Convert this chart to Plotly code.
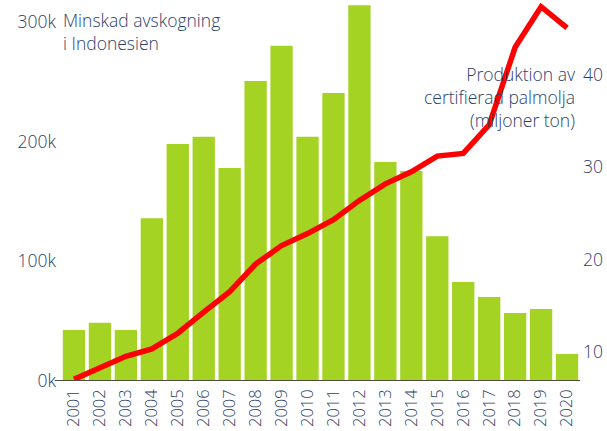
import plotly.graph_objects as go

years = [str(y) for y in range(2001, 2021)]

# tree cover loss in Indonesia (hectares)
deforestation = [42600, 48700, 42600, 136000, 198000, 204000, 178000, 250600, 280000, 204000,
                 240600, 314000, 183000, 175400, 121000, 82700, 70200, 56800, 60200, 22600]

# certified palm oil production (million tonnes)
palm_oil = [7.0, 8.3, 9.5, 10.3, 12.0, 14.3, 16.5, 19.5, 21.5, 22.8,
            24.3, 26.4, 28.2, 29.5, 31.2, 31.5, 34.6, 43.0, 47.4, 45.1]

left_ticks = [0, 100000, 200000, 300000]
left_labels = ['0k', '100k', '200k', '300k']
right_ticks = [10, 20, 30, 40]

TEXT = '#2c3e6b'
FONT = 'Open Sans'

fig = go.Figure()

# Add deforestation bars
fig.add_trace(go.Bar(
    x=years,
    y=deforestation,
    marker=dict(color='#a4d323', line=dict(width=0)),
    name='Minskad avskogning',
))

# Add palm oil line on secondary axis
fig.add_trace(go.Scatter(
    x=years,
    y=palm_oil,
    yaxis='y2',
    mode='lines',
    line=dict(color='#ff0000', width=5.5),
    name='Produktion',
))

fig.update_layout(
    width=607,
    height=431,
    margin=dict(l=61, r=27, t=0, b=50, autoexpand=False),
    plot_bgcolor='white',
    paper_bgcolor='white',
    showlegend=False,
    bargap=0.14,
    font=dict(family=FONT, color=TEXT, size=16, weight=300),
    xaxis=dict(
        automargin=False,
        tickangle=-90,
        showgrid=False,
        showline=False,
        ticks='',
        ticklabelstandoff=4,
        tickfont=dict(size=16.5, color=TEXT, weight=300),
    ),
    yaxis=dict(
        automargin=False,
        range=[0, 318300],
        tickvals=left_ticks,
        ticktext=left_labels,
        showgrid=False,
        zeroline=False,
        ticks='',
        ticklabelstandoff=4,
        tickfont=dict(size=17.5, color=TEXT, weight=300),
    ),
    yaxis2=dict(
        automargin=False,
        range=[6.82, 48.13],
        overlaying='y',
        side='right',
        tickvals=right_ticks,
        showgrid=False,
        zeroline=False,
        ticklabelstandoff=2,
        tickfont=dict(size=17.5, color=TEXT, weight=300),
    ),
    annotations=[
        dict(
            text='Minskad avskogning<br>i Indonesien',
            x=0, xref='paper', xanchor='left',
            y=291600, yref='y', yanchor='middle',
            align='left', showarrow=False,
            font=dict(size=17.5, color=TEXT, weight=300),
        ),
        dict(
            text='Produktion av<br>certifierad palmolja<br>(miljoner ton)',
            x=0.996, xref='paper', xanchor='right',
            y=37.6, yref='y2', yanchor='middle',
            align='right', showarrow=False,
            font=dict(size=17.5, color=TEXT, weight=300),
        ),
    ],
    # baseline, extending slightly left of the plot like a zero tick
    shapes=[dict(
        type='line', xref='paper', yref='y',
        x0=-0.012, x1=1.0, y0=0, y1=0,
        line=dict(color='#4d4d3a', width=2),
    )],
)

fig.write_html("out.html", config={'displayModeBar': False},
               post_script="document.body.style.margin='0';")
